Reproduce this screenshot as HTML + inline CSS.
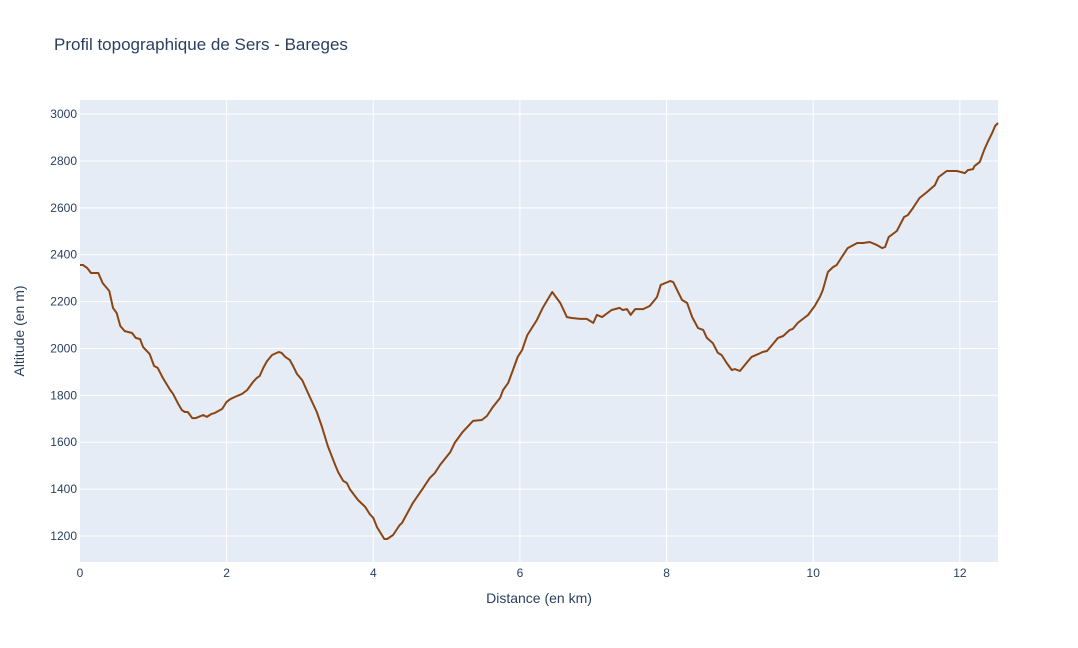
<!DOCTYPE html>
<html><head><meta charset="utf-8"><style>
body{margin:0;background:#fff;font-family:"Liberation Sans",sans-serif;}
svg text{font-family:"Liberation Sans",sans-serif;fill:#2a3f5f;}
</style></head><body>
<svg id="chart" width="1078" height="643" xmlns="http://www.w3.org/2000/svg">
<rect width="1078" height="643" fill="#fff"/>
<text x="54" y="50" font-size="17">Profil topographique de Sers - Bareges</text>
<rect x="80" y="100" width="918" height="462" fill="#e5ecf6"/>
<g id="grid"></g>
<g id="ticks"></g>
<g id="series"></g>
<text x="539" y="603" font-size="14" text-anchor="middle">Distance (en km)</text>
<text x="24" y="331" font-size="14" text-anchor="middle" transform="rotate(-90 24 331)">Altitude (en m)</text>
</svg>
<script>
const distances=[0,0.04,0.10,0.15,0.25,0.31,0.40,0.45,0.50,0.55,0.61,0.71,0.76,0.82,0.86,0.95,1.01,1.06,1.13,1.23,1.27,1.34,1.39,1.43,1.47,1.53,1.58,1.68,1.73,1.79,1.84,1.94,2.00,2.05,2.11,2.21,2.28,2.36,2.41,2.45,2.50,2.55,2.62,2.71,2.75,2.80,2.86,2.90,2.96,3.03,3.11,3.23,3.30,3.38,3.48,3.52,3.59,3.64,3.68,3.79,3.89,3.95,4.00,4.05,4.15,4.19,4.27,4.36,4.39,4.54,4.68,4.77,4.84,4.91,5.05,5.11,5.22,5.36,5.48,5.55,5.63,5.73,5.77,5.84,5.90,5.97,6.03,6.10,6.23,6.31,6.44,6.55,6.64,6.71,6.82,6.91,7.00,7.05,7.12,7.25,7.36,7.40,7.46,7.51,7.57,7.68,7.77,7.87,7.92,8.05,8.09,8.21,8.28,8.35,8.43,8.50,8.55,8.63,8.70,8.75,8.82,8.89,8.93,9.00,9.10,9.16,9.25,9.31,9.37,9.44,9.52,9.59,9.68,9.72,9.79,9.89,9.93,10.02,10.09,10.13,10.20,10.27,10.32,10.39,10.47,10.60,10.68,10.77,10.87,10.94,10.98,11.03,11.14,11.24,11.29,11.36,11.45,11.55,11.66,11.71,11.82,11.96,12.07,12.11,12.18,12.20,12.27,12.33,12.38,12.44,12.48,12.52];
const altitudes=[2356,2356,2343,2322,2322,2279,2245,2173,2151,2096,2074,2066,2045,2040,2006,1976,1925,1917,1874,1823,1806,1763,1737,1729,1729,1703,1703,1716,1708,1720,1725,1742,1772,1784,1793,1806,1823,1857,1874,1882,1917,1946,1972,1985,1981,1964,1951,1929,1891,1865,1810,1729,1665,1584,1503,1473,1435,1426,1400,1354,1324,1294,1277,1238,1187,1187,1204,1247,1255,1341,1405,1447,1469,1503,1558,1597,1644,1691,1695,1712,1750,1789,1823,1853,1904,1964,1993,2057,2121,2173,2241,2194,2134,2130,2126,2126,2109,2143,2134,2164,2173,2164,2168,2143,2168,2168,2181,2219,2271,2288,2283,2207,2194,2134,2087,2079,2045,2023,1981,1972,1938,1908,1912,1904,1942,1964,1976,1985,1989,2015,2045,2053,2079,2083,2109,2134,2143,2181,2219,2249,2326,2347,2356,2390,2428,2450,2450,2454,2441,2428,2433,2475,2501,2561,2569,2599,2642,2667,2697,2731,2757,2757,2748,2761,2765,2778,2795,2846,2881,2919,2949,2962];
const xTicks=[0,2,4,6,8,10,12];
const yTicks=[1200,1400,1600,1800,2000,2200,2400,2600,2800,3000];
const NS="http://www.w3.org/2000/svg";
const X0=80,X1=998,XMAX=12.52,Y0=562,Y1=100,YMIN=1089,YMAX=3060;
function xs(v){return X0+(v/XMAX)*(X1-X0);}
function ys(v){return Y0-(v-YMIN)/(YMAX-YMIN)*(Y0-Y1);}
const grid=document.getElementById('grid'),ticks=document.getElementById('ticks'),series=document.getElementById('series');
xTicks.forEach(t=>{
  const x=xs(t);
  if(t>0){const l=document.createElementNS(NS,'line');
  l.setAttribute('x1',x);l.setAttribute('x2',x);l.setAttribute('y1',Y1);l.setAttribute('y2',Y0);
  l.setAttribute('stroke','#fff');l.setAttribute('stroke-width','1');
  
  
  grid.appendChild(l);}
  const tx=document.createElementNS(NS,'text');
  tx.setAttribute('x',x);tx.setAttribute('y',577);tx.setAttribute('font-size','12');tx.setAttribute('text-anchor','middle');
  tx.textContent=t;
  
  
  ticks.appendChild(tx);
});
yTicks.forEach(t=>{
  const y=ys(t);
  const l=document.createElementNS(NS,'line');
  l.setAttribute('x1',X0);l.setAttribute('x2',X1);l.setAttribute('y1',y);l.setAttribute('y2',y);
  l.setAttribute('stroke','#fff');l.setAttribute('stroke-width','1');
  
  
  grid.appendChild(l);
  const tx=document.createElementNS(NS,'text');
  tx.setAttribute('x',77);tx.setAttribute('y',y+4);tx.setAttribute('font-size','12');tx.setAttribute('text-anchor','end');
  tx.textContent=t;
  
  
  ticks.appendChild(tx);
});
const p=document.createElementNS(NS,'polyline');
p.setAttribute('points',distances.map((d,i)=>xs(d).toFixed(1)+','+ys(altitudes[i]).toFixed(1)).join(' '));
p.setAttribute('fill','none');p.setAttribute('stroke','#8b4513');p.setAttribute('stroke-width','2');p.setAttribute('stroke-linejoin','round');


series.appendChild(p);
</script>
</body></html>
